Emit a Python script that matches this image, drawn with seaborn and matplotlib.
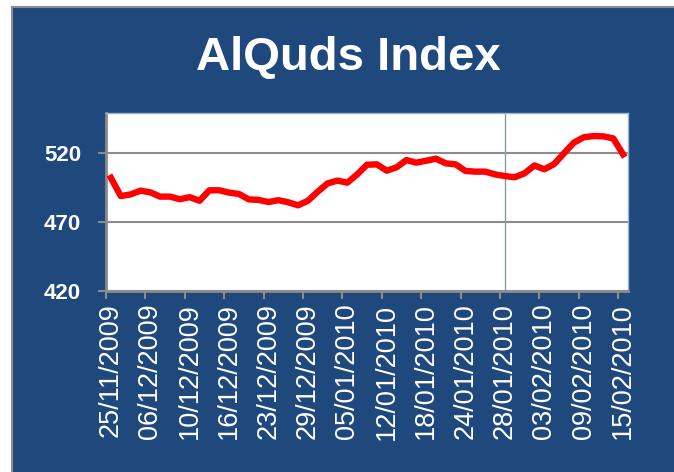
import numpy as np
import matplotlib
matplotlib.use("Agg")
import matplotlib.pyplot as plt
import seaborn as sns
from matplotlib.patches import Rectangle

# index values (one per trading day)
index_values = [502.0, 488.8, 490.0, 492.7, 491.5, 488.4, 488.4, 486.5, 488.0, 485.4,
                493.0, 493.0, 491.3, 490.3, 486.4, 486.0, 484.5, 485.8, 484.3, 482.1,
                485.4, 492.0, 498.0, 500.0, 498.5, 504.5, 511.5, 511.8, 507.2, 509.6,
                514.9, 513.0, 514.4, 515.9, 512.5, 511.8, 507.0, 506.5, 506.5, 504.5,
                503.3, 502.4, 505.3, 511.0, 508.2, 512.0, 519.8, 527.5, 531.4, 532.3,
                532.1, 530.6, 519.0]
date_labels = ['25/11/2009', '06/12/2009', '10/12/2009', '16/12/2009', '23/12/2009',
               '29/12/2009', '05/01/2010', '12/01/2010', '18/01/2010', '24/01/2010',
               '28/01/2010', '03/02/2010', '09/02/2010', '15/02/2010']
y_ticks = [420, 470, 520]
marker_day = 40  # 28/01/2010

blue = '#1F497D'
plt.rcParams['font.family'] = ['Liberation Sans', 'DejaVu Sans']

fig = plt.figure(figsize=(6.74, 4.72), dpi=100)
fig.patch.set_facecolor('white')
bg = Rectangle((12 / 674, -0.01), 1.0, 1 - 7 / 472 + 0.01,
               transform=fig.transFigure, facecolor=blue,
               edgecolor='#8C8C8C', linewidth=1.5, zorder=-10)
fig.patches.append(bg)

ax = fig.add_axes([106 / 674, (472 - 291) / 472, 522 / 674, 178 / 472])
ax.set_zorder(5)
ax.set_facecolor('white')

idx = np.arange(len(index_values))
sns.lineplot(x=idx, y=index_values, ax=ax, color='#FF0000', linewidth=4.6, zorder=3)
ax.axvline(marker_day, color='#7F9DB9', linewidth=1, zorder=2)

ax.set_xlim(-0.5, len(index_values) - 0.5)
ax.set_ylim(420, 549)
ax.set_yticks(y_ticks)
ax.set_yticklabels([str(v) for v in y_ticks], color='white', fontsize=16, fontweight='bold')
ax.yaxis.grid(True, color='#8C8C8C', linewidth=1.5)
ax.set_axisbelow(True)

ax.set_xticks(np.arange(-0.5, len(index_values) - 1, 4))
ax.set_xticklabels([])
ax.set_xticks(np.arange(0, len(index_values), 4), minor=True)
ax.set_xticklabels(date_labels, minor=True, rotation=90, color='white', fontsize=19.5)
ax.tick_params(axis='x', which='major', length=6, width=1.5, color='#8C8C8C')
ax.tick_params(axis='x', which='minor', length=0, pad=9)
ax.tick_params(axis='y', length=6, width=1.5, color='#8C8C8C', pad=12)

for side in ['left', 'bottom']:
    ax.spines[side].set_color('#8C8C8C')
    ax.spines[side].set_linewidth(2)
for side in ['top', 'right']:
    ax.spines[side].set_color('#9DB3D0')
    ax.spines[side].set_linewidth(1)

ax.set_xlabel('')
ax.set_ylabel('')

fig.text(348 / 674, 1 - 58 / 472, 'AlQuds Index', color='white', fontsize=34,
         fontweight='bold', ha='center', va='center')

fig.savefig('out.png', dpi=100, facecolor=fig.get_facecolor())
